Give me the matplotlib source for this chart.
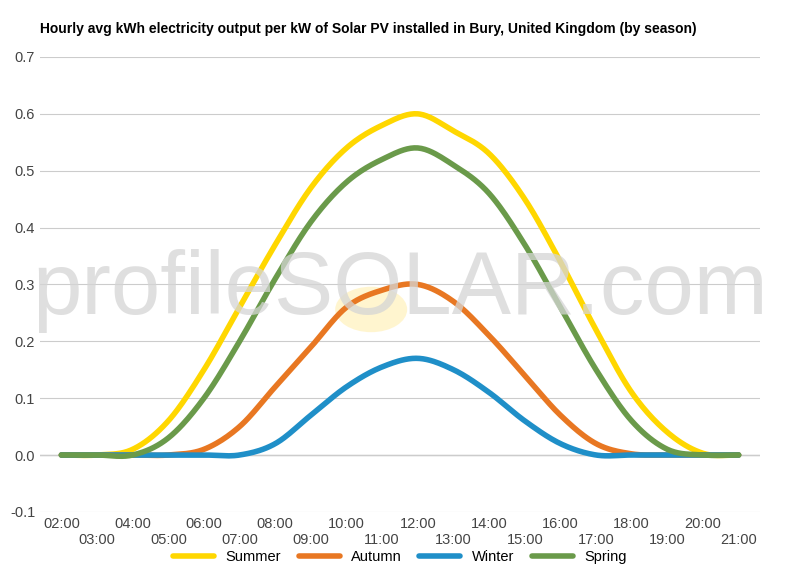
import numpy as np
import matplotlib.pyplot as plt
from matplotlib.patches import Circle

plt.rcParams["font.family"] = "Liberation Sans"

hours = list(range(2, 22))
tick_labels = [f"{h:02d}:00" for h in hours]

summer = [0, 0, 0.01, 0.06, 0.15, 0.26, 0.37, 0.47, 0.54, 0.58, 0.60, 0.57, 0.53, 0.45, 0.34, 0.22, 0.11, 0.04, 0.003, 0]
autumn = [0, 0, 0, 0, 0.01, 0.05, 0.12, 0.19, 0.26, 0.29, 0.30, 0.27, 0.21, 0.14, 0.07, 0.02, 0.002, 0, 0, 0]
winter = [0, 0, 0, 0, 0, 0, 0.02, 0.07, 0.12, 0.155, 0.17, 0.15, 0.11, 0.06, 0.02, 0, 0, 0, 0, 0]
spring = [0, 0, 0, 0.03, 0.10, 0.20, 0.31, 0.41, 0.48, 0.52, 0.54, 0.51, 0.46, 0.37, 0.26, 0.15, 0.06, 0.01, 0, 0]

series = [("Summer", summer, "#FFD700"), ("Autumn", autumn, "#E87722"),
          ("Winter", winter, "#1F8FC8"), ("Spring", spring, "#6A9A4A")]


def smooth(x, y, n=20):
    # catmull-rom through the data points
    x = np.asarray(x, float); y = np.asarray(y, float)
    px = np.concatenate([[2 * x[0] - x[1]], x, [2 * x[-1] - x[-2]]])
    py = np.concatenate([[y[0]], y, [y[-1]]])
    xs, ys = [], []
    t = np.linspace(0, 1, n, endpoint=False)
    for i in range(1, len(px) - 2):
        for p, out in ((px, xs), (py, ys)):
            p0, p1, p2, p3 = p[i - 1:i + 3]
            out.extend(0.5 * (2 * p1 + (-p0 + p2) * t + (2 * p0 - 5 * p1 + 4 * p2 - p3) * t ** 2
                              + (-p0 + 3 * p1 - 3 * p2 + p3) * t ** 3))
    xs.append(x[-1]); ys.append(y[-1])
    return xs, ys


fig = plt.figure(figsize=(8, 5.7), dpi=100)
ax = fig.add_axes([0.05, 0.102, 0.9, 0.798])

# watermark
ax.add_patch(Circle((0.46, 0.445), 0.05, transform=ax.transAxes, color="#FFF3C4", alpha=0.8,
                    zorder=0, ec="none"))
fig.text(0.5, 0.49, "profileSOLAR.com", ha="center", va="center",
         fontsize=64, color="#D5D5D5", alpha=0.75, zorder=0)

for name, vals, col in series:
    xs, ys = smooth(hours, vals)
    ax.plot(xs, ys, color=col, lw=4, label=name, zorder=3, solid_capstyle="round")

ax.set_xlim(1.4, 21.6)
ax.set_ylim(-0.1, 0.7)
ax.set_yticks(np.arange(-0.1, 0.71, 0.1))
ax.set_yticklabels([f"{v:.1f}" for v in np.arange(-0.1, 0.71, 0.1)])
ax.set_xticks(hours)
ax.set_xticklabels([("" if i % 2 == 0 else "\n") + lab for i, lab in enumerate(tick_labels)])
ax.tick_params(length=0, labelsize=10.5, colors="#444444")
ax.grid(axis="y", color="#CCCCCC", lw=0.8)
for s in ax.spines.values():
    s.set_visible(False)
ax.axhline(0, color="#333333", lw=0.8, zorder=1)
ax.patch.set_alpha(0)

fig.text(0.05, 0.95, "Hourly avg kWh electricity output per kW of Solar PV installed in Bury, United Kingdom (by season)",
         fontsize=10, fontweight="bold", va="center")
fig.legend(loc="lower center", ncol=4, frameon=False, fontsize=10.5, handlelength=2.8,
           bbox_to_anchor=(0.5, -0.012), columnspacing=1.2)
fig.savefig("out.png")
